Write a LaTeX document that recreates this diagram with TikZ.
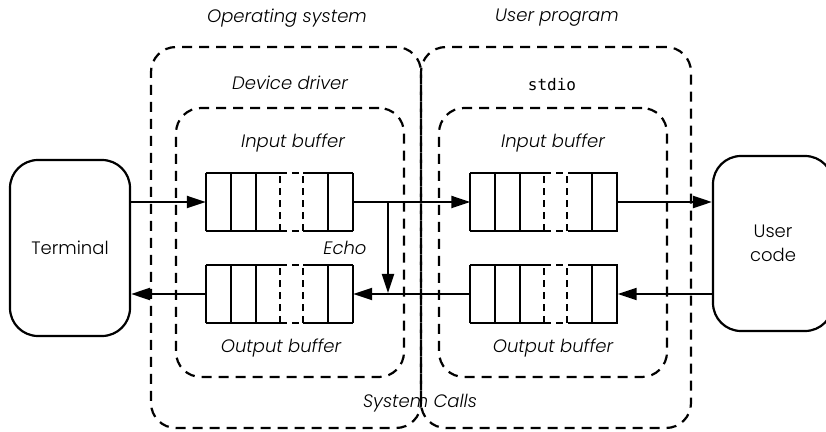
\documentclass[tikz,border=0pt]{standalone}
\usepackage{fontspec}
\setmainfont{Poppins Light}[ItalicFont={Poppins Light Italic}]
\setmonofont{DejaVu Sans Mono}
\usetikzlibrary{arrows.meta,positioning,calc}

\begin{document}
\begin{tikzpicture}[x=1pt, y=1pt,
    lbl/.style={font=\fontsize{18}{20}\selectfont\itshape, inner sep=0pt},
    endbox/.style={draw, line width=2.2pt, rounded corners=28pt, minimum width=120pt,
                   font=\fontsize{18}{24}\selectfont, align=center, inner sep=0pt},
    region/.style={draw, line width=2.2pt, dash pattern=on 10pt off 7pt,
                   rounded corners=25pt, inner sep=0pt},
    buf/.style={minimum width=147pt, minimum height=58pt, inner sep=0pt},
    cellline/.style={line width=2.2pt},
    gapline/.style={line width=2.2pt, dash pattern=on 7pt off 5pt},
    flow/.style={line width=2.2pt, -{Triangle[length=19pt, width=12pt]}}]
  \useasboundingbox (0,0) rectangle (826,431);

  % --- Regions (left: kernel, right: user side) ---
  \node[region, minimum width=270pt, minimum height=381pt] (os) at (286,193.5) {};
  \node[region, minimum width=270pt, minimum height=381pt] (prog) at (556,193.5) {};
  \node[region, minimum width=228pt, minimum height=269pt] (driver) at (290,188.5) {};
  \node[region, minimum width=228pt, minimum height=269pt] (stdio) at (553,188.5) {};

  \node[lbl] (osname) at (287,413) {Operating system};
  \node[lbl] (progname) at (557,413) {User program};
  \node[lbl] (drivername) at (290,348) {Device driver};
  \node[font=\fontsize{16}{20}\selectfont\ttfamily, inner sep=0pt] (stdioname) at (552,346) {stdio};
  \node[lbl] (syscalls) at (420,28) {System Calls};

  % --- Terminal and user code ---
  \node[endbox, minimum height=176pt] (term) at (70,183) {Terminal};
  \node[endbox, minimum height=175pt] (user) at (773,187.5) {User\\code};

  % --- Buffers ---
  \node[buf] (inL) at (279.5,229) {};
  \node[buf] (outL) at (279.5,137) {};
  \node[buf] (inR) at (544,229) {};
  \node[buf] (outR) at (544,137) {};

  \node[lbl] (inLname) at (293,288) {Input buffer};
  \node[lbl] (inRname) at (553,288) {Input buffer};
  \node[lbl] (outLname) at (281,83) {Output buffer};
  \node[lbl] (outRname) at (553,83) {Output buffer};

  % cells: three, a gap, then two
  \foreach \b in {inL,outL,inR,outR} {
    \draw[cellline] (\b.north west) -- ++(74,0) (\b.south west) -- ++(74,0)
                    (\b.north east) -- ++(-50,0) (\b.south east) -- ++(-50,0);
    \foreach \dx in {0,25,50,122,147}
      \draw[cellline] ($(\b.south west)+(\dx,0)$) -- ++(0,58);
    \foreach \dx in {74,97}
      \draw[gapline] ($(\b.south west)+(\dx,0)$) -- ++(0,58);
    \draw[gapline] ($(\b.north west)+(74,0)$) -- ++(23,0)
                   ($(\b.south west)+(74,0)$) -- ++(23,0);
  }

  % --- Data flow ---
  \draw[flow] (inL.west -| term.east) -- (inL.west);
  \draw[flow] (inL.east) -- (inR.west);
  \draw[flow] (inR.east) -- (inR.east -| user.west);
  \draw[flow] (outR.east -| user.west) -- (outR.east);
  \draw[flow] (outR.west) -- (outL.east);
  \draw[flow] (outL.west) -- (outL.west -| term.east);

  % Echo
  \coordinate (echoA) at (388,229);
  \coordinate (echoB) at (388,138);
  \draw[flow] (echoA) -- (echoB);
  \node[lbl] (echo) at (345,183) {Echo};
\end{tikzpicture}
\end{document}
